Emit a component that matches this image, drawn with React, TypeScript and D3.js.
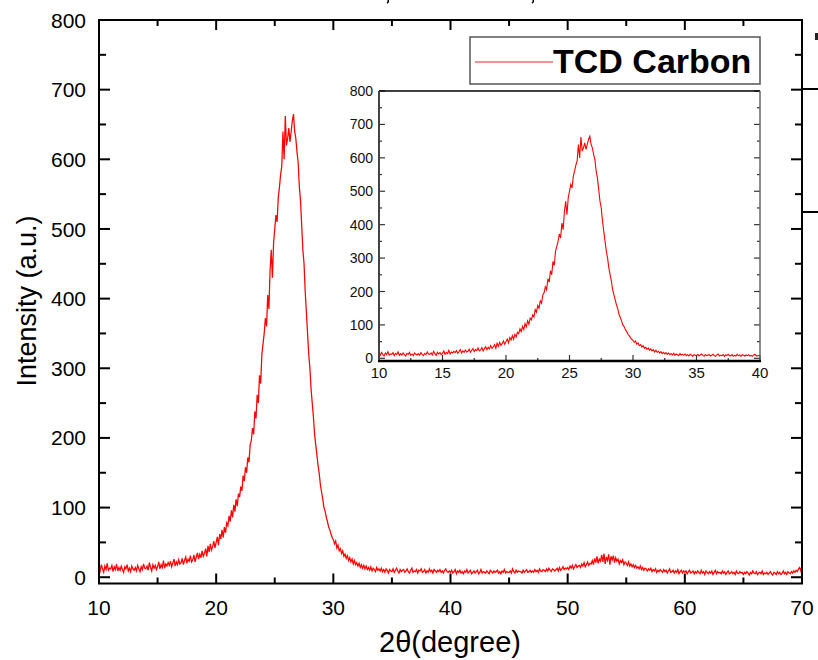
import React from 'react';
import * as d3 from 'd3';

// scan: 2theta from 10 to 70 deg, step 0.1
const scanStart = 10;
const scanStep = 0.1;

// 10.0 - 19.9
const lowAngle = [
  14, 9, 18, 12, 7, 16, 11, 20, 10, 13,
  12, 17, 8, 15, 11, 19, 9, 14, 10, 16,
  11, 7, 15, 12, 18, 9, 13, 8, 16, 12,
  10, 14, 9, 17, 12, 8, 15, 11, 19, 13,
  12, 16, 10, 21, 14, 9, 18, 13, 17, 11,
  15, 22, 12, 18, 14, 24, 13, 19, 16, 21,
  17, 23, 15, 20, 26, 16, 22, 18, 25, 19,
  21, 27, 18, 24, 29, 20, 26, 23, 31, 22,
  25, 32, 22, 29, 35, 26, 33, 28, 38, 30,
  34, 41, 30, 45, 36, 48, 39, 44, 52, 42,
];

// 20.0 - 33.9 (graphitic (002) peak)
const peak = [
  50, 58, 46, 62, 55, 68, 57, 72, 64, 78,
  74, 88, 80, 96, 86, 104, 94, 112, 102, 120,
  115, 130, 124, 146, 138, 158, 150, 172, 165, 190,
  196, 214, 205, 238, 228, 262, 250, 290, 278, 320,
  335, 350, 372, 360, 405, 385, 440, 470, 430, 480,
  500, 520, 510, 545, 560, 578, 590, 640, 600, 662,
  620, 630, 645, 625, 640, 655, 665, 640, 630, 610,
  595, 560, 540, 505, 470, 450, 410, 380, 350, 320,
  300, 270, 250, 230, 205, 190, 175, 160, 148, 132,
  122, 112, 100, 95, 86, 80, 72, 68, 62, 57,
  54, 48, 52, 42, 46, 38, 41, 34, 38, 30,
  33, 27, 31, 24, 28, 22, 26, 19, 24, 18,
  21, 16, 20, 14, 18, 13, 17, 12, 16, 11,
  14, 10, 15, 9, 13, 11, 8, 14, 10, 12,
];

// 34.0 - 49.9
const midAngle = [
  9, 13, 8, 11, 7, 12, 10, 6, 11, 9,
  8, 12, 7, 10, 13, 9, 6, 11, 8, 10,
  11, 7, 9, 12, 8, 6, 10, 13, 7, 9,
  8, 11, 6, 10, 9, 12, 7, 8, 11, 6,
  9, 7, 12, 8, 10, 6, 11, 9, 7, 10,
  8, 11, 7, 9, 6, 10, 12, 8, 7, 9,
  7, 10, 6, 8, 11, 5, 9, 7, 10, 6,
  8, 5, 9, 7, 11, 6, 8, 10, 5, 7,
  9, 6, 8, 10, 5, 7, 11, 6, 8, 7,
  6, 9, 7, 5, 10, 8, 6, 9, 7, 8,
  10, 6, 8, 5, 9, 7, 11, 6, 8, 7,
  7, 9, 6, 12, 8, 6, 10, 7, 9, 8,
  8, 6, 10, 7, 9, 11, 7, 8, 10, 7,
  9, 7, 11, 8, 10, 7, 12, 9, 8, 11,
  10, 8, 12, 9, 13, 10, 8, 12, 11, 9,
  11, 13, 9, 14, 10, 12, 15, 11, 13, 12,
];

// 50.0 - 70.0 (broad (100) band)
const highAngle = [
  14, 11, 16, 13, 17, 12, 15, 18, 14, 16,
  17, 14, 19, 16, 21, 15, 18, 22, 17, 20,
  19, 24, 18, 27, 21, 30, 20, 26, 23, 32,
  22, 34, 19, 29, 24, 33, 18, 30, 25, 31,
  21, 28, 23, 26, 19, 24, 21, 25, 18, 22,
  20, 17, 22, 16, 19, 15, 18, 14, 17, 13,
  15, 12, 16, 11, 14, 10, 13, 12, 9, 12,
  10, 13, 8, 11, 9, 12, 7, 10, 8, 11,
  9, 7, 11, 8, 10, 6, 9, 12, 7, 8,
  10, 6, 9, 7, 11, 5, 8, 10, 6, 9,
  7, 9, 5, 8, 10, 6, 7, 9, 5, 8,
  6, 9, 7, 5, 10, 6, 8, 4, 9, 7,
  5, 8, 6, 9, 4, 7, 10, 5, 8, 6,
  7, 5, 9, 6, 8, 4, 7, 9, 5, 6,
  8, 5, 7, 4, 9, 6, 5, 8, 6, 7,
  4, 7, 5, 8, 6, 3, 7, 5, 9, 6,
  5, 8, 4, 6, 7, 5, 9, 4, 6, 5,
  7, 4, 6, 8, 5, 3, 7, 6, 4, 8,
  5, 7, 4, 6, 9, 5, 7, 4, 8, 6,
  5, 8, 6, 9, 7, 10, 8, 12, 14, 9,
  16,
];

const mainXTicks = [10, 20, 30, 40, 50, 60, 70];
const mainXMinor = [15, 25, 35, 45, 55, 65];
const mainYTicks = [0, 100, 200, 300, 400, 500, 600, 700, 800];
const mainYMinor = [50, 150, 250, 350, 450, 550, 650, 750];
const insetXTicks = [10, 15, 20, 25, 30, 35, 40];
const insetXMinor = [12.5, 17.5, 22.5, 27.5, 32.5, 37.5];
const insetYTicks = [0, 100, 200, 300, 400, 500, 600, 700, 800];
const insetYMinor = [50, 150, 250, 350, 450, 550, 650, 750];

const seriesName = 'TCD Carbon';
const xTitle = '2θ(degree)';
const yTitle = 'Intensity (a.u.)';

const font = '"Liberation Sans", Arial, sans-serif';

const points = lowAngle
  .concat(peak, midAngle, highAngle)
  .map((v, i) => ({ x: scanStart + i * scanStep, y: v }));

const App = () => {
  // main plot
  const m = { left: 99, right: 802, top: 20, bottom: 583.5 };
  const x = d3.scaleLinear().domain([10, 70]).range([m.left, m.right]);
  const y = d3.scaleLinear().domain([-9, 800]).range([m.bottom, m.top]);
  const line = d3.line<{ x: number; y: number }>().x(d => x(d.x)).y(d => y(d.y));

  // inset
  const n = { left: 379, right: 760, top: 91, bottom: 361 };
  const ix = d3.scaleLinear().domain([10, 40]).range([n.left, n.right]);
  const iy = d3.scaleLinear().domain([-8, 800]).range([n.bottom, n.top]);
  const insetLine = d3.line<{ x: number; y: number }>().x(d => ix(d.x)).y(d => iy(d.y));
  const insetPts = points.filter(p => p.x <= 40.001);

  return (
    <svg width={818} height={660} style={{ position: 'absolute', left: 0, top: 0 }} fontFamily={font}>
      <rect width={818} height={660} fill="#fff" />

      {/* cut-off bits from neighbouring panels */}
      <path d="M388,0 q1,2 -1,3" fill="none" stroke="#000" strokeWidth={1.5} />
      <path d="M533,0 q1,2 -1,3" fill="none" stroke="#000" strokeWidth={1.5} />
      <line x1={m.right} x2={818} y1={89} y2={89} stroke="#000" strokeWidth={2} />
      <line x1={m.right} x2={818} y1={212} y2={212} stroke="#000" strokeWidth={2} />
      <rect x={815} y={33} width={3} height={7} fill="#222" />

      <defs>
        <clipPath id="mainClip">
          <rect x={m.left} y={m.top} width={m.right - m.left} height={m.bottom - m.top} />
        </clipPath>
      </defs>
      <path d={line(points) || ''} fill="none" stroke="#ff0000" strokeWidth={1.25} clipPath="url(#mainClip)" />

      {/* main ticks */}
      <g stroke="#000" strokeWidth={2}>
        {mainXTicks.map(t => (
          <g key={'xt' + t}>
            <line x1={x(t)} x2={x(t)} y1={m.bottom} y2={m.bottom - 10} />
            <line x1={x(t)} x2={x(t)} y1={m.top} y2={m.top + 10} />
          </g>
        ))}
        {mainXMinor.map(t => (
          <g key={'xm' + t}>
            <line x1={x(t)} x2={x(t)} y1={m.bottom} y2={m.bottom - 6} />
            <line x1={x(t)} x2={x(t)} y1={m.top} y2={m.top + 6} />
          </g>
        ))}
        {mainYTicks.map(t => (
          <g key={'yt' + t}>
            <line x1={m.left} x2={m.left + 11} y1={y(t)} y2={y(t)} />
            <line x1={m.right} x2={m.right - 11} y1={y(t)} y2={y(t)} />
          </g>
        ))}
        {mainYMinor.map(t => (
          <g key={'ym' + t}>
            <line x1={m.left} x2={m.left + 7} y1={y(t)} y2={y(t)} />
            <line x1={m.right} x2={m.right - 7} y1={y(t)} y2={y(t)} />
          </g>
        ))}
      </g>
      <rect x={m.left} y={m.top} width={m.right - m.left} height={m.bottom - m.top}
        fill="none" stroke="#000" strokeWidth={2} />

      {mainXTicks.map(t => (
        <text key={'xl' + t} x={x(t)} y={615} fontSize={21} textAnchor="middle">{t}</text>
      ))}
      {mainYTicks.map(t => (
        <text key={'yl' + t} x={86} y={y(t)} dy="0.36em" fontSize={21} textAnchor="end">{t}</text>
      ))}
      <text x={450} y={652} fontSize={29} textAnchor="middle">{xTitle}</text>
      <text transform="translate(36,301) rotate(-90)" fontSize={27} textAnchor="middle">{yTitle}</text>

      {/* legend */}
      <rect x={470} y={37} width={290} height={47} fill="#fff" stroke="#555" strokeWidth={1.5} />
      <line x1={475} x2={553} y1={62} y2={62} stroke="#f56d6d" strokeWidth={1.5} />
      <text x={553} y={73} fontSize={34} fontWeight="bold">{seriesName}</text>

      {/* inset */}
      <rect x={n.left} y={n.top} width={n.right - n.left} height={n.bottom - n.top} fill="#fff" />
      <defs>
        <clipPath id="insetClip">
          <rect x={n.left} y={n.top} width={n.right - n.left} height={n.bottom - n.top} />
        </clipPath>
      </defs>
      <path d={insetLine(insetPts) || ''} fill="none" stroke="#ff0000" strokeWidth={1.1} clipPath="url(#insetClip)" />
      <g stroke="#333" strokeWidth={1.2}>
        {insetXTicks.map(t => (
          <line key={'ixt' + t} x1={ix(t)} x2={ix(t)} y1={n.bottom} y2={n.bottom - 6} />
        ))}
        {insetXMinor.map(t => (
          <line key={'ixm' + t} x1={ix(t)} x2={ix(t)} y1={n.bottom} y2={n.bottom - 3} />
        ))}
        {insetYTicks.map(t => (
          <g key={'iyt' + t}>
            <line x1={n.left} x2={n.left + 6} y1={iy(t)} y2={iy(t)} />
            <line x1={n.right} x2={n.right - 6} y1={iy(t)} y2={iy(t)} />
          </g>
        ))}
        {insetYMinor.map(t => (
          <g key={'iym' + t}>
            <line x1={n.left} x2={n.left + 3} y1={iy(t)} y2={iy(t)} />
            <line x1={n.right} x2={n.right - 3} y1={iy(t)} y2={iy(t)} />
          </g>
        ))}
      </g>
      <line x1={n.left} x2={n.right} y1={n.top} y2={n.top} stroke="#000" strokeWidth={1.5} />
      <line x1={n.right} x2={n.right} y1={n.top} y2={n.bottom} stroke="#666" strokeWidth={1.5} />
      <line x1={n.left} x2={n.left} y1={n.top} y2={n.bottom} stroke="#444" strokeWidth={2} />
      <line x1={n.left - 1} x2={n.right + 1} y1={n.bottom} y2={n.bottom} stroke="#000" strokeWidth={2.5} />
      {insetXTicks.map(t => (
        <text key={'ixl' + t} x={ix(t)} y={378} fontSize={15} textAnchor="middle" fill="#111">{t}</text>
      ))}
      {insetYTicks.map(t => (
        <text key={'iyl' + t} x={373} y={iy(t)} dy="0.36em" fontSize={14} textAnchor="end" fill="#111">{t}</text>
      ))}
    </svg>
  );
};

export default App;
